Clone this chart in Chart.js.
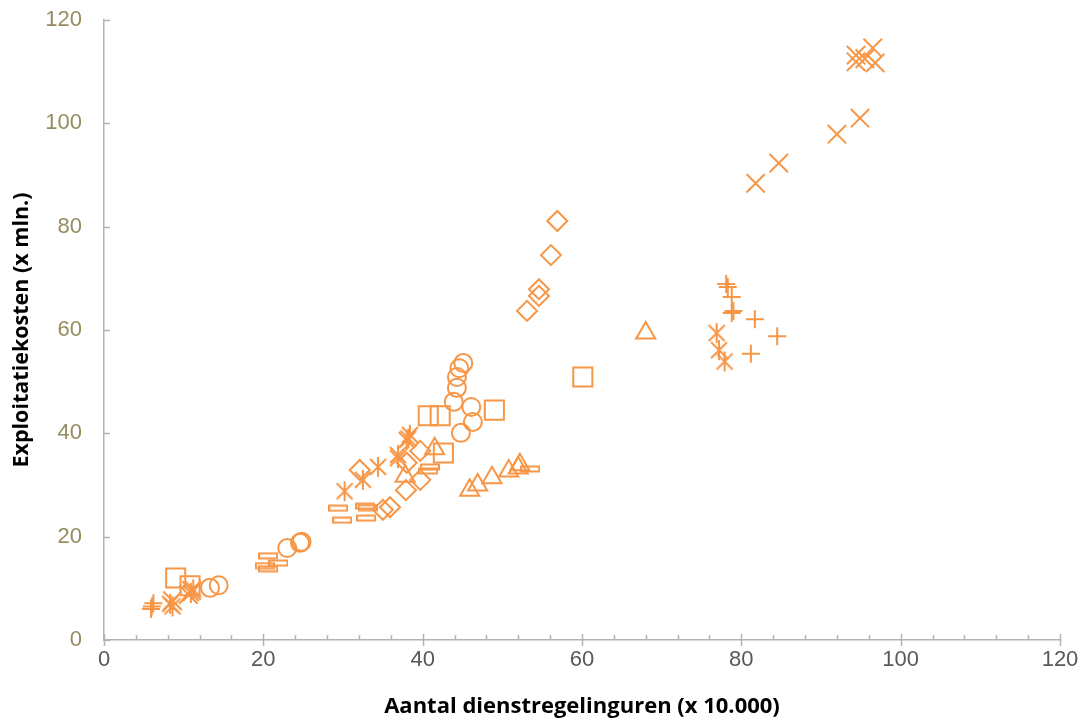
<!DOCTYPE html>
<html>
<head>
<meta charset="utf-8">
<script src="https://cdn.jsdelivr.net/npm/chart.js@4/dist/chart.umd.min.js"></script>
<style>
  html, body { margin: 0; padding: 0; background: #fff; }
  #wrap { width: 1084px; height: 721px; position: relative; }
</style>
</head>
<body>
<div id="wrap"><canvas id="chart"></canvas></div>
<script>
// Waarden: [dienstregelinguren x 10.000, kosten x mln.]
const plusPts = [[6.0, 6.5], [6.2, 7.1], [5.9, 6.0], [78.1, 68.9], [78.3, 68.3], [78.8, 66.4],
  [78.8, 63.3], [79.0, 63.7], [81.7, 62.1], [84.5, 58.8], [81.2, 55.4]];
const kruisPts = [[94.4, 113.2], [96.5, 114.6], [94.4, 111.9], [96.8, 111.7], [95.5, 112.5],
  [94.9, 101.0], [92.0, 97.9], [84.7, 92.3], [81.8, 88.4], [8.6, 7.6], [11.0, 9.6], [10.6, 8.8]];
const sterPts = [[8.3, 7.0], [8.6, 6.5], [10.9, 9.1], [11.2, 9.8], [30.2, 28.8], [32.5, 31.0],
  [34.4, 33.5], [36.9, 35.8], [36.9, 35.2], [38.0, 38.7], [38.4, 39.7], [38.2, 39.0],
  [76.9, 59.4], [77.2, 56.1], [77.9, 53.9]];
const vierkantPts = [[9.0, 12.0], [10.8, 10.5], [40.7, 43.4], [42.2, 43.4], [49.0, 44.5],
  [42.6, 36.2], [60.1, 50.9]];
const cirkelPts = [[13.3, 10.1], [14.4, 10.6], [23.0, 17.8], [24.6, 18.8], [24.8, 19.0],
  [45.1, 53.6], [44.6, 52.6], [44.3, 50.9], [44.3, 48.8], [43.9, 46.1], [46.1, 45.1],
  [46.3, 42.2], [44.8, 40.1]];
const driehoekPts = [[41.5, 37.0], [37.8, 31.7], [45.9, 29.0], [46.9, 30.0], [48.7, 31.4],
  [50.8, 32.7], [52.0, 33.3], [52.2, 33.9], [68.0, 59.4]];
const ruitPts = [[56.9, 81.1], [56.1, 74.5], [54.6, 67.9], [54.6, 66.6], [53.1, 63.7],
  [38.0, 34.3], [39.7, 36.6], [39.7, 31.0], [37.9, 29.0], [35.9, 25.7], [35.0, 25.2], [32.1, 32.9]];
const streepPts = [[20.6, 16.3], [21.9, 14.9], [20.2, 14.4], [20.6, 13.8], [29.4, 25.5],
  [32.8, 25.9], [29.9, 23.2], [32.9, 23.6], [33.1, 25.6], [40.9, 33.5], [40.7, 32.7], [53.5, 33.1]];

const asMin = 0, asMax = 120, asStap = 20, minorStap = 4;

const oranje = '#F79646';

// Excel-achtige markers die Chart.js niet heeft
function maakSter() {
  const c = document.createElement('canvas');
  c.width = 22; c.height = 22;
  const g = c.getContext('2d');
  g.strokeStyle = oranje; g.lineWidth = 2;
  g.beginPath();
  g.moveTo(3, 3); g.lineTo(19, 19);
  g.moveTo(19, 3); g.lineTo(3, 19);
  g.moveTo(11, 1); g.lineTo(11, 21);
  g.stroke();
  return c;
}
function maakStreep() {
  const c = document.createElement('canvas');
  c.width = 20; c.height = 8;
  const g = c.getContext('2d');
  g.strokeStyle = oranje; g.lineWidth = 2;
  g.strokeRect(1, 1.5, 18, 5);
  return c;
}

function reeks(pts, stijl, straal) {
  return {
    data: pts.map(p => ({ x: p[0], y: p[1] })),
    pointStyle: stijl,
    pointRadius: straal,
    pointHoverRadius: straal,
    borderColor: oranje,
    backgroundColor: 'rgba(0,0,0,0)',
    pointBorderWidth: 2,
    showLine: false
  };
}

// Tickmarks naar binnen, zoals in Excel
const tickPlugin = {
  id: 'tickPlugin',
  afterDraw(chart) {
    const ctx = chart.ctx;
    const xs = chart.scales.x, ys = chart.scales.y;
    const bodem = ys.getPixelForValue(asMin);
    const links = xs.getPixelForValue(asMin);
    ctx.save();
    ctx.strokeStyle = '#b3b3b3';
    ctx.lineWidth = 1.5;
    ctx.beginPath();
    for (let v = asMin; v <= asMax; v += minorStap) {
      const px = Math.round(xs.getPixelForValue(v)) + 0.5;
      if (v % asStap === 0) {
        ctx.moveTo(px, bodem - 6); ctx.lineTo(px, bodem + 6);
      } else {
        ctx.moveTo(px, bodem - 5); ctx.lineTo(px, bodem);
      }
    }
    for (let v = asMin; v <= asMax; v += asStap) {
      const py = Math.round(ys.getPixelForValue(v)) + 0.5;
      ctx.moveTo(links, py); ctx.lineTo(links + 6, py);
    }
    ctx.stroke();
    ctx.restore();
  }
};

const ctx = document.getElementById('chart');
new Chart(ctx, {
  type: 'scatter',
  data: {
    datasets: [
      reeks(streepPts, maakStreep(), 10),
      reeks(ruitPts, 'rectRot', 10),
      reeks(driehoekPts, 'triangle', 11),
      reeks(cirkelPts, 'circle', 9),
      reeks(vierkantPts, 'rect', 13.5),
      reeks(sterPts, maakSter(), 11),
      reeks(kruisPts, 'crossRot', 13),
      reeks(plusPts, 'cross', 9)
    ]
  },
  options: {
    responsive: true,
    maintainAspectRatio: false,
    animation: false,
    layout: { padding: { top: 20, right: 24, left: 0, bottom: 0 } },
    plugins: {
      legend: { display: false },
      tooltip: { enabled: false }
    },
    scales: {
      x: {
        type: 'linear',
        min: asMin, max: asMax,
        afterFit(scale) {
          scale.height = 81;
          scale.paddingLeft = 0;
          scale.paddingRight = 0;
        },
        grid: { display: false, drawTicks: false },
        border: { display: true, color: '#b3b3b3', width: 1.5 },
        ticks: {
          stepSize: asStap,
          padding: 7,
          color: '#595959',
          font: { family: 'Liberation Sans', size: 22 }
        },
        title: {
          display: true,
          text: 'Aantal dienstregelinguren (x 10.000)',
          color: '#000',
          padding: { top: 0, bottom: 1 },
          font: { family: 'Open Sans', size: 22, weight: 'bold' }
        }
      },
      y: {
        type: 'linear',
        min: asMin, max: asMax,
        afterFit(scale) {
          scale.width = 104;
          scale.paddingTop = 0;
          scale.paddingBottom = 0;
        },
        grid: { display: false, drawTicks: false },
        border: { display: true, color: '#b3b3b3', width: 1.5 },
        ticks: {
          stepSize: asStap,
          padding: 22,
          color: '#968c5f',
          font: { family: 'Liberation Sans', size: 22 }
        },
        title: {
          display: true,
          text: 'Exploitatiekosten (x mln.)',
          color: '#000',
          padding: { top: 9, bottom: 0 },
          font: { family: 'Open Sans', size: 21.5, weight: 'bold' }
        }
      }
    }
  },
  plugins: [tickPlugin]
});
</script>
</body>
</html>
